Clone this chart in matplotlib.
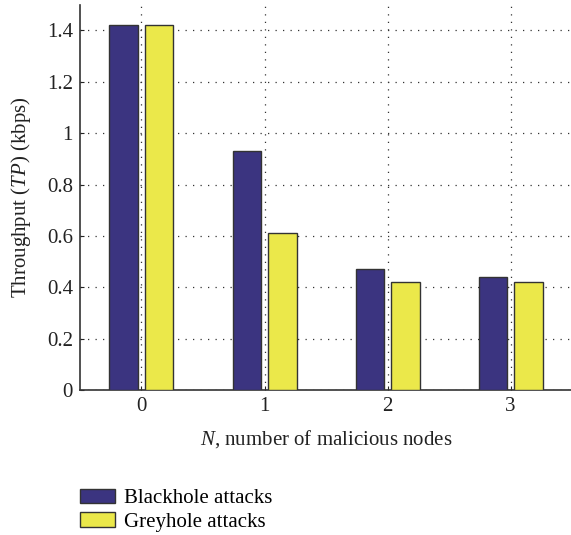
import matplotlib
matplotlib.use("Agg")
import matplotlib.pyplot as plt
import numpy as np

categories = ["0", "1", "2", "3"]
blackhole = [1.42, 0.93, 0.47, 0.44]
greyhole = [1.42, 0.61, 0.42, 0.42]

plt.rcParams["font.family"] = "Liberation Serif"
plt.rcParams["mathtext.fontset"] = "custom"
plt.rcParams["mathtext.it"] = "Liberation Serif:italic"
plt.rcParams["mathtext.rm"] = "Liberation Serif"

fig = plt.figure(figsize=(5.71, 5.35), dpi=100)
ax = fig.add_axes([0.140, 0.271, 0.862, 0.72])

x = np.arange(len(categories))
w = 0.23
ax.bar(x - 0.145, blackhole, width=w, color="#3b3480", edgecolor="#333333",
       linewidth=1.0, label="Blackhole attacks", zorder=3)
ax.bar(x + 0.145, greyhole, width=w, color="#ebe84a", edgecolor="#333333",
       linewidth=1.0, label="Greyhole attacks", zorder=3)

ax.set_xlim(-0.5, 3.5)
ax.set_ylim(0, 1.5)
ax.set_xticks(x)
ax.set_xticklabels(categories)
ax.set_yticks([0, 0.2, 0.4, 0.6, 0.8, 1.0, 1.2, 1.4])
ax.set_yticklabels(["0", "0.2", "0.4", "0.6", "0.8", "1", "1.2", "1.4"])
ax.grid(True, linestyle=(0, (1, 5)), color="#333333", linewidth=0.9, zorder=0)
ax.tick_params(direction="in", length=3, labelsize=15, colors="#222222", pad=5)
ax.spines[["top", "right"]].set_visible(False)
ax.spines[["left", "bottom"]].set_color("#333333")
ax.spines[["left", "bottom"]].set_linewidth(1.2)

ax.set_xlabel(r"$N$, number of malicious nodes", fontsize=15, color="#222222", labelpad=9)
ax.set_ylabel(r"Throughput ($TP$) (kbps)", fontsize=15, color="#222222", labelpad=10)

ax.legend(loc="upper left", bbox_to_anchor=(0.0, -0.256), frameon=False,
          fontsize=15, handlelength=1.7, handleheight=0.7, handletextpad=0.4,
          labelspacing=0.2, borderaxespad=0, borderpad=0)

fig.savefig("out.png", dpi=100)
